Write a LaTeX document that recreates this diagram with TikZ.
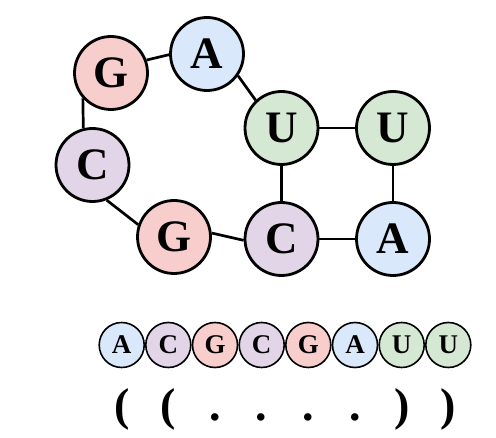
\documentclass[tikz,border=0pt]{standalone}
\usepackage{fontspec}
\setmainfont{Liberation Serif}
\definecolor{rfill}{HTML}{F8CECC}
\definecolor{bfill}{HTML}{DAE8FC}
\definecolor{gfill}{HTML}{D5E8D4}
\definecolor{pfill}{HTML}{E1D5E7}
\pgfdeclarelayer{bg}
\pgfsetlayers{bg,main}
\begin{document}
\begin{tikzpicture}[x=1pt,y=-1pt,
  big/.style={circle,draw=black,line width=2.8pt,minimum size=73pt,inner sep=0pt,font=\fontsize{45}{45}\selectfont\bfseries},
  small/.style={circle,draw=black,line width=1.6pt,minimum size=45pt,inner sep=0pt,font=\fontsize{27}{27}\selectfont\bfseries},
  rb/.style={fill=rfill},bb/.style={fill=bfill},gb/.style={fill=gfill},pb/.style={fill=pfill},
  link/.style={line width=2.7pt},
  brk/.style={font=\fontsize{46}{46}\selectfont\bfseries,inner sep=0pt}]
\useasboundingbox (0,0) rectangle (496,438);
\node[big,rb] (G1) at (111,73) {G};
\node[big,bb] (A1) at (207,54) {A};
\node[big,gb] (U1) at (281.5,128) {U};
\node[big,gb] (U2) at (393,128) {U};
\node[big,pb] (C1) at (92.5,165) {C};
\node[big,rb] (G2) at (174,237) {G};
\node[big,pb] (C2) at (281.5,239) {C};
\node[big,bb] (A2) at (393,239) {A};
\begin{pgfonlayer}{bg}
\draw[link] (G1.20)--(A1.181);
\draw[link] (A1.325)--(U1.133);
\draw[link] (U1)--(U2);
\draw[link] (U2)--(A2);
\draw[link] (A2)--(C2);
\draw[link] (C2)--(U1);
\draw[link] (C2.182)--(G2.6);
\draw[link] (G2.161)--(C1.292);
\draw[link] (C1.104)--(G1.222);
\end{pgfonlayer}
% sequence
\node[small,bb] (s1) at (121.7,345) {A};
\node[small,pb] (s2) at (168.3,345) {C};
\node[small,rb] (s3) at (215,345) {G};
\node[small,pb] (s4) at (261.7,345) {C};
\node[small,rb] (s5) at (308.3,345) {G};
\node[small,bb] (s6) at (355,345) {A};
\node[small,gb] (s7) at (401.7,345) {U};
\node[small,gb] (s8) at (448.3,345) {U};
% dot-bracket
\node[brk,anchor=base] (b1) at (121.7,421) {(};
\node[brk,anchor=base] (b2) at (168.3,421) {(};
\node[brk,anchor=base] (b3) at (215,421) {.};
\node[brk,anchor=base] (b4) at (261.7,421) {.};
\node[brk,anchor=base] (b5) at (308.3,421) {.};
\node[brk,anchor=base] (b6) at (355,421) {.};
\node[brk,anchor=base] (b7) at (401.7,421) {)};
\node[brk,anchor=base] (b8) at (448.3,421) {)};
\end{tikzpicture}
\end{document}
